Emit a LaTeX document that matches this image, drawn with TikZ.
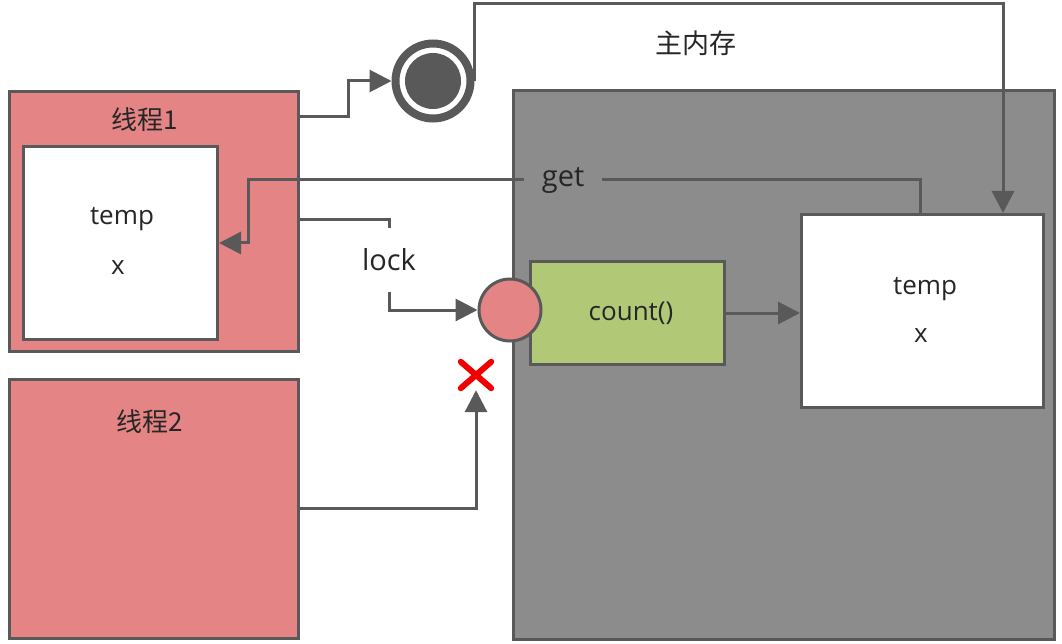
\documentclass[tikz,border=0pt]{standalone}
\usepackage{fontspec}
\setmainfont{Open Sans}
\newfontfamily\cjk{Noto Sans CJK SC}
\usetikzlibrary{arrows.meta,positioning}
\definecolor{MemGray}{HTML}{8C8C8C}
\definecolor{LineGray}{HTML}{595959}
\definecolor{ThreadPink}{HTML}{E48484}
\definecolor{CountGreen}{HTML}{B1C877}
\definecolor{CrossRed}{HTML}{F20000}
\definecolor{TextDark}{HTML}{262626}
\tikzset{
  threadbox/.style={draw=LineGray,line width=3pt,fill=ThreadPink,anchor=north west,inner sep=0pt,minimum width=289pt},
  whitebox/.style={draw=LineGray,line width=3pt,fill=white,anchor=north west,inner sep=0pt},
  membox/.style={draw=LineGray,line width=3pt,fill=MemGray,anchor=north west,inner sep=0pt},
  countbox/.style={draw=LineGray,line width=3pt,fill=CountGreen,anchor=north west,inner sep=0pt},
  cjklabel/.style={text=TextDark,font=\cjk\fontsize{26}{30}\selectfont,inner sep=0pt},
  varlabel/.style={text=TextDark,font=\fontsize{26}{30}\selectfont,inner sep=0pt},
  flowarrow/.style={-{Triangle[length=22pt,width=22pt]},line width=3pt,draw=LineGray},
  gaplabel/.style={text=TextDark,font=\fontsize{29}{33}\selectfont,inner sep=0pt},
  crossline/.style={draw=CrossRed,line width=6pt,line cap=round}
}
\begin{document}
\begin{tikzpicture}[x=1pt,y=-1pt]
\useasboundingbox (0,0) rectangle (1062,644);

% threads
\node[threadbox,minimum height=260pt] (thread1) at (8,90) {};
\node[cjklabel] (t1label) at (145,120) {线程1};
\node[whitebox,minimum width=194pt,minimum height=193pt] (local) at (22,145) {};
\node[varlabel] (localtemp) at (122,219) {temp};
\node[varlabel] (localx) at (118,268) {x};
\node[threadbox,minimum height=259pt] (thread2) at (8,378) {};
\node[cjklabel] (t2label) at (150,422) {线程2};

% main memory
\node[cjklabel,font=\cjk\fontsize{27}{31}\selectfont] (memlabel) at (696,43) {主内存};
\node[membox,minimum width=541pt,minimum height=549pt] (mem) at (512,89) {};
\node[whitebox,minimum width=242pt,minimum height=193pt] (shared) at (800,213) {};
\node[varlabel] (sharedtemp) at (925,289) {temp};
\node[varlabel] (sharedx) at (921,336) {x};
\node[countbox,minimum width=194pt,minimum height=103pt] (count) at (529,260) {};
\node[varlabel] (countlabel) at (631,313) {count()};
\node[circle,draw=LineGray,line width=3pt,fill=ThreadPink,minimum size=62pt,inner sep=0pt] (lockball) at (510,310) {};

% gate
\node[circle,draw=LineGray,line width=8pt,fill=white,minimum size=75pt,inner sep=0pt] (gate) at (433,81) {};
\node[circle,fill=LineGray,minimum size=56pt,inner sep=0pt] (gatecore) at (gate.center) {};

% blocked mark
\node[minimum width=30pt,minimum height=26pt,inner sep=0pt] (cross) at (476,375) {};
\draw[crossline] (cross.north west) -- (cross.south east);
\draw[crossline] (cross.north east) -- (cross.south west);

% connectors
\draw[flowarrow] ([yshift=-27pt]thread1.north east) -- ++(48,0) |- (gate.west);
\draw[flowarrow] (gate.east) -- ++(0,-77) -| ([xshift=-42pt]shared.north east);
\draw[flowarrow] ([xshift=120pt]shared.north west) -- ++(0,-33)
  -- node[pos=0.531,fill=MemGray,minimum width=78pt,gaplabel] (getlabel) {get} ++(-672,0)
  |- (local.east);
\draw[flowarrow] ([yshift=-130pt]thread1.north east) -- ++(89,0)
  -- node[pos=0.444,fill=white,minimum height=64pt,gaplabel] (locklabel) {lock} ++(0,90)
  -- (lockball.west);
\draw[flowarrow] ([yshift=-130pt]thread2.north east) -| ([yshift=-2pt]cross.south);
\draw[flowarrow] (count.east) -- (count.east -| shared.west);
\end{tikzpicture}
\end{document}
